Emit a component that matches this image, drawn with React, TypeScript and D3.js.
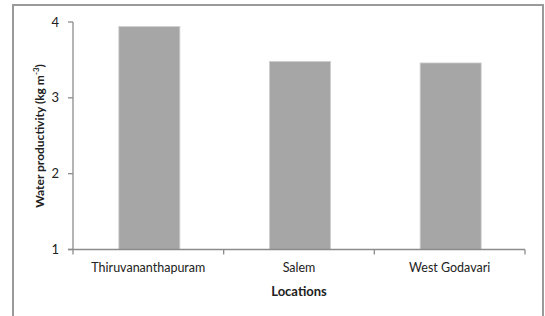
import React from "react";
import * as d3 from "d3";

const categories = ["Thiruvananthapuram", "Salem", "West Godavari"];
const values = [3.94, 3.48, 3.46];
const yTicks = [1, 2, 3, 4];

const W = 545;
const H = 316;
const left = 73;
const right = 525;
const top = 22;
const bottom = 249.5;
const font = "Lato, 'Open Sans', sans-serif";

export default function App() {
  const x = d3.scaleBand<string>().domain(categories).range([left, right]).paddingInner(0).paddingOuter(0);
  const y = d3.scaleLinear().domain([1, 4]).range([bottom, top]);
  const bw = x.bandwidth() * 0.405;
  const boundaries = [left, ...categories.map((c) => (x(c) as number) + x.bandwidth())];
  const axisColor = "#8c8c8c";
  return (
    <svg width={W} height={H} style={{ position: "absolute", left: 0, top: 0, background: "#fff" }}>
      <rect x={13} y={5} width={530} height={H + 10} fill="#fff" stroke="#9a9a9a" strokeWidth={2} />
      {categories.map((c, i) => {
        const cx = (x(c) as number) + x.bandwidth() / 2 + 1;
        return (
          <rect
            key={c}
            x={cx - bw / 2}
            y={y(values[i])}
            width={bw}
            height={bottom - y(values[i])}
            fill="#a6a6a6"
            stroke="#cfcfcf"
            strokeWidth={0.8}
          />
        );
      })}
      <line x1={left} x2={left} y1={top} y2={bottom} stroke={axisColor} strokeWidth={1.3} />
      <line x1={left - 5} x2={right} y1={bottom} y2={bottom} stroke={axisColor} strokeWidth={1.3} />
      {yTicks.map((t) => (
        <g key={t}>
          <line x1={left - 5} x2={left} y1={y(t)} y2={y(t)} stroke={axisColor} strokeWidth={1.3} />
          <text x={left - 14} y={y(t)} dy="0.35em" textAnchor="end" fontFamily={font} fontSize={13} fill="#222">
            {t}
          </text>
        </g>
      ))}
      {boundaries.map((b, i) => (
        <line key={i} x1={b} x2={b} y1={bottom} y2={bottom + 5} stroke={axisColor} strokeWidth={1.3} />
      ))}
      {categories.map((c) => (
        <text
          key={c}
          x={(x(c) as number) + x.bandwidth() / 2}
          y={268}
          dy="0.35em"
          textAnchor="middle"
          fontFamily={font}
          fontSize={12.5}
          fill="#222"
        >
          {c}
        </text>
      ))}
      <text x={299} y={291} dy="0.35em" textAnchor="middle" fontFamily={font} fontSize={13} fontWeight="bold" fill="#222">
        Locations
      </text>
      <text
        transform={`translate(40,136) rotate(-90)`}
        textAnchor="middle"
        dy="0.35em"
        fontFamily={font}
        fontSize={12}
        fontWeight="bold"
        fill="#222"
      >
        Water productivity (kg m
        <tspan fontSize={8} dy="-5">-3</tspan>
        <tspan dy="5">)</tspan>
      </text>
    </svg>
  );
}
